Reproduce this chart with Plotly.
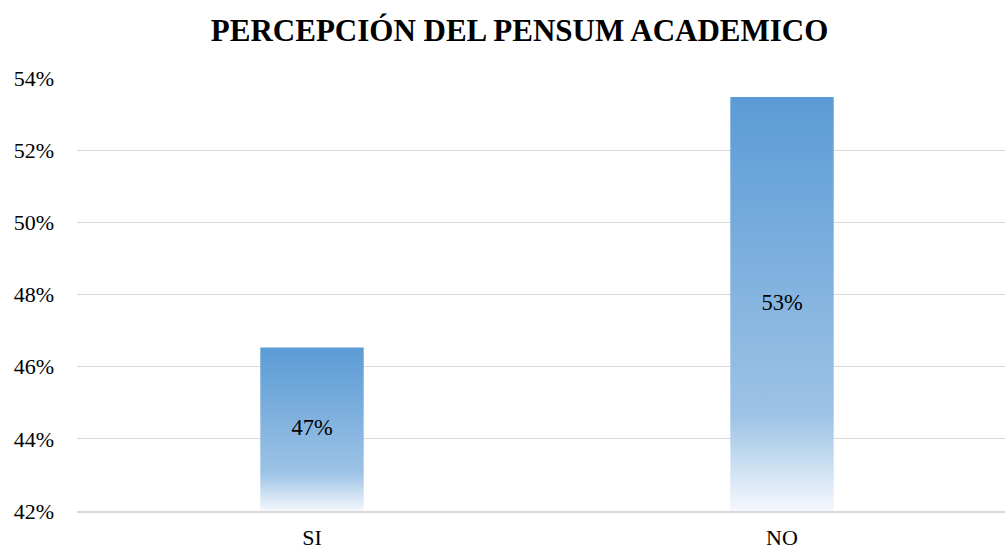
import plotly.graph_objects as go

categories = ["SI", "NO"]
values = [0.4653, 0.5347]
labels = ["47%", "53%"]
y_min, y_max, y_step = 0.42, 0.54, 0.02
bar_width = 0.22

font_family = "Liberation Serif, Times New Roman, serif"
grad = [[0.0, "#F5F8FC"], [0.23, "#9DC3E6"], [1.0, "#5B9BD5"]]

fig = go.Figure()
for i, (cat, v) in enumerate(zip(categories, values)):
    x0, x1 = i - bar_width / 2, i + bar_width / 2
    fig.add_trace(go.Scatter(
        x=[x0, x0, x1, x1, x0], y=[y_min, v, v, y_min, y_min],
        mode="lines", line=dict(width=0), fill="toself",
        fillgradient=dict(type="vertical", colorscale=grad),
        name=cat, showlegend=False, hoverinfo="skip"))

fig.add_trace(go.Scatter(
    x=list(range(len(categories))),
    y=[(y_min + v) / 2 for v in values],
    mode="text", text=labels,
    textfont=dict(family=font_family, size=22.5, color="#000000"),
    showlegend=False, hoverinfo="skip"))

fig.update_layout(
    width=1005, height=550,
    margin=dict(l=77, r=0, t=78, b=39, autoexpand=False),
    paper_bgcolor="white", plot_bgcolor="white",
    title=dict(text="<b>PERCEPCIÓN DEL PENSUM ACADEMICO</b>",
               x=0.517, xanchor="center", y=0.945, yanchor="middle",
               font=dict(family=font_family, size=31, color="#000000")),
    xaxis=dict(range=[-0.5, -0.5 + 928 / 470], tickmode="array",
               tickvals=list(range(len(categories))), ticktext=categories,
               showgrid=False, zeroline=False, showline=True,
               linecolor="#D9D9D9", linewidth=1.5, ticks="",
               automargin=False,
               tickfont=dict(family=font_family, size=22, color="#000000"),
               ticklabelstandoff=6),
    yaxis=dict(range=[y_min, y_max], dtick=y_step, tick0=y_min,
               tickformat=".0%", showgrid=True, gridcolor="#D9D9D9",
               gridwidth=1.2, zeroline=False, ticks="",
               automargin=False,
               tickfont=dict(family=font_family, size=22, color="#000000"),
               ticklabelstandoff=22),
)

fig.write_html("out.html", config={"displayModeBar": False},
               post_script="document.body.style.margin='0';")
